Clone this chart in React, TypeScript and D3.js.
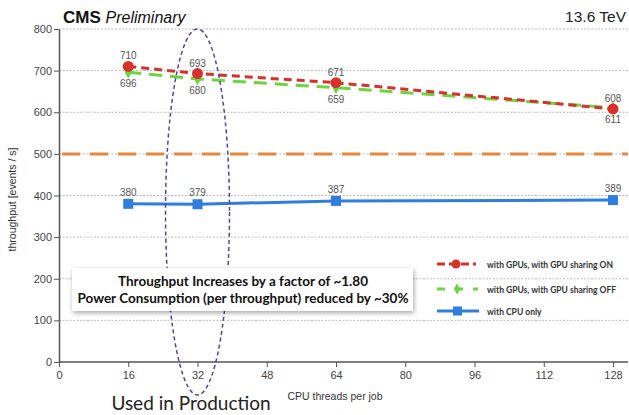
import React, { useEffect, useRef } from 'react'
import * as d3 from 'd3'

const threads = [16, 32, 64, 128]
const sharingOn = [710, 693, 671, 608]
const sharingOff = [696, 680, 659, 611]
const cpuOnly = [380, 379, 387, 389]
const xTicks = [0, 16, 32, 48, 64, 80, 96, 112, 128]
const yTicks = [0, 100, 200, 300, 400, 500, 600, 700, 800]
const productionLine = 500
const legendLabels = ['with GPUs, with GPU sharing ON', 'with GPUs, with GPU sharing OFF', 'with CPU only']
const boxLines = ['Throughput Increases by a factor of ~1.80', 'Power Consumption (per throughput) reduced by ~30%']

const W = 629
const H = 415
const margin = { top: 29, right: 16, bottom: 53, left: 59 }

const App = () => {
  const svgRef = useRef<SVGSVGElement>(null)

  useEffect(() => {
    if (!svgRef.current) return
    const svg = d3.select(svgRef.current)
    svg.selectAll('*').remove()

    const x = d3.scaleLinear().domain([0, 128]).range([margin.left, W - margin.right])
    const y = d3.scaleLinear().domain([0, 800]).range([H - margin.bottom, margin.top])
    const gridRight = 628
    const sans = 'Liberation Sans, Arial, sans-serif'

    // grid
    svg.append('g')
      .selectAll('line')
      .data(yTicks.filter(d => d > 0))
      .join('line')
      .attr('x1', margin.left).attr('x2', gridRight)
      .attr('y1', d => y(d)).attr('y2', d => y(d))
      .attr('stroke', '#bbb').attr('stroke-width', 1).attr('stroke-dasharray', '2,1.5')

    // axes
    const yAxis = svg.append('g')
      .attr('transform', `translate(${margin.left},0)`)
      .call(d3.axisLeft(y).tickValues(yTicks).tickSize(5).tickSizeOuter(0))
    const xAxis = svg.append('g')
      .attr('transform', `translate(0,${y(0)})`)
      .call(d3.axisBottom(x).tickValues(xTicks).tickSize(5).tickSizeOuter(0))
    xAxis.select('.domain').attr('d', `M${margin.left},0H${gridRight}`)
    for (const ax of [xAxis, yAxis]) {
      ax.select('.domain').attr('stroke', '#555').attr('stroke-width', 1.5)
      ax.selectAll('.tick line').attr('stroke', '#555')
      ax.selectAll('.tick text')
        .attr('fill', '#444').attr('font-size', 11)
        .attr('font-family', sans)
    }
    yAxis.selectAll('.tick text').attr('x', -7)
    xAxis.selectAll('.tick text').attr('y', 9)

    // production reference line
    svg.append('line')
      .attr('x1', margin.left + 3).attr('x2', gridRight)
      .attr('y1', y(productionLine)).attr('y2', y(productionLine))
      .attr('stroke', '#e4883a').attr('stroke-width', 3).attr('stroke-dasharray', '18,10')

    const pts = (vals: number[]) => vals.map((v, i) => [x(threads[i]), y(v)] as [number, number])
    const line = d3.line()

    // CPU only
    svg.append('path').attr('d', line(pts(cpuOnly)))
      .attr('fill', 'none').attr('stroke', '#2f7de1').attr('stroke-width', 3)
    svg.append('g').selectAll('rect').data(pts(cpuOnly)).join('rect')
      .attr('x', d => d[0] - 5).attr('y', d => d[1] - 5).attr('width', 10).attr('height', 10)
      .attr('fill', '#2f7de1')

    // sharing OFF
    svg.append('path').attr('d', line(pts(sharingOff)))
      .attr('fill', 'none').attr('stroke', '#6ad53f').attr('stroke-width', 3).attr('stroke-dasharray', '13,8')
    svg.append('g').selectAll('path').data(pts(sharingOff)).join('path')
      .attr('d', d3.symbol(d3.symbolDiamond, 45)())
      .attr('transform', d => `translate(${d[0]},${d[1]})`)
      .attr('fill', '#6ad53f')

    // sharing ON
    svg.append('path').attr('d', line(pts(sharingOn)))
      .attr('fill', 'none').attr('stroke', '#d8302a').attr('stroke-width', 3).attr('stroke-dasharray', '8,5')
    svg.append('g').selectAll('circle').data(pts(sharingOn)).join('circle')
      .attr('cx', d => d[0]).attr('cy', d => d[1]).attr('r', 5.5)
      .attr('fill', '#d8302a')

    // value labels
    const addLabels = (vals: number[], dy: number) => {
      svg.append('g').selectAll('text').data(vals).join('text')
        .attr('x', (d, i) => x(threads[i])).attr('y', d => y(d) + dy)
        .attr('text-anchor', 'middle').attr('font-size', 10).attr('fill', '#555')
        .attr('font-family', sans)
        .text(d => d)
    }
    addLabels(sharingOn, -7)
    addLabels(sharingOff, 15)
    addLabels(cpuOnly, -8)

    // legend
    const legendY = [264, 289, 311]
    const lg = svg.append('g').attr('font-family', 'Lato, Open Sans, sans-serif')
    lg.append('line').attr('x1', 437).attr('x2', 476).attr('y1', legendY[0]).attr('y2', legendY[0])
      .attr('stroke', '#d8302a').attr('stroke-width', 3).attr('stroke-dasharray', '8,4')
    lg.append('circle').attr('cx', 456).attr('cy', legendY[0]).attr('r', 4.5).attr('fill', '#d8302a')
    lg.append('line').attr('x1', 437).attr('x2', 478).attr('y1', legendY[1]).attr('y2', legendY[1])
      .attr('stroke', '#6ad53f').attr('stroke-width', 3).attr('stroke-dasharray', '8,10')
    lg.append('path').attr('d', d3.symbol(d3.symbolDiamond, 35)())
      .attr('transform', `translate(457,${legendY[1]})`).attr('fill', '#6ad53f')
    lg.append('line').attr('x1', 437).attr('x2', 479).attr('y1', legendY[2]).attr('y2', legendY[2])
      .attr('stroke', '#2f7de1').attr('stroke-width', 3)
    lg.append('rect').attr('x', 453).attr('y', legendY[2] - 4.5).attr('width', 9).attr('height', 9).attr('fill', '#2f7de1')
    lg.selectAll('text').data(legendLabels).join('text')
      .attr('x', 487).attr('y', (d, i) => legendY[i] + 3.5)
      .attr('font-size', 8.5).attr('font-weight', 'bold').attr('fill', '#333')
      .text(d => d)

    // production ellipse (drawn below the annotation box)
    svg.append('ellipse')
      .attr('cx', x(32)).attr('cy', 212).attr('rx', 32).attr('ry', 183)
      .attr('fill', 'none').attr('stroke', '#5a3fa6').attr('stroke-width', 1.5).attr('stroke-dasharray', '4,3')
    svg.append('text').attr('x', 191).attr('y', 410)
      .attr('text-anchor', 'middle').attr('font-size', 19)
      .attr('font-family', 'Lato, Open Sans, sans-serif').attr('fill', '#222')
      .text('Used in Production')

    // annotation box
    const defs = svg.append('defs')
    const f = defs.append('filter').attr('id', 'shadow').attr('x', '-10%').attr('y', '-30%').attr('width', '120%').attr('height', '170%')
    f.append('feDropShadow').attr('dx', 1).attr('dy', 2).attr('stdDeviation', 2.5).attr('flood-color', '#000').attr('flood-opacity', 0.35)
    svg.append('rect').attr('x', 72).attr('y', 268).attr('width', 341).attr('height', 43)
      .attr('fill', '#fff').attr('filter', 'url(#shadow)')
    svg.append('g').selectAll('text').data(boxLines).join('text')
      .attr('x', 243).attr('y', (d, i) => 286 + i * 17)
      .attr('text-anchor', 'middle').attr('font-size', 13.5).attr('font-weight', 'bold')
      .attr('font-family', 'Lato, Open Sans, sans-serif').attr('fill', '#111')
      .text(d => d)

    // titles
    const title = svg.append('text').attr('x', 63).attr('y', 23)
      .attr('font-family', sans).attr('font-size', 17).attr('fill', '#111')
    title.append('tspan').attr('font-weight', 'bold').text('CMS ')
    title.append('tspan').attr('font-style', 'italic').attr('font-size', 16).text('Preliminary')
    svg.append('text').attr('x', 626).attr('y', 22).attr('text-anchor', 'end')
      .attr('font-family', sans).attr('font-size', 15.5).attr('fill', '#222')
      .text('13.6 TeV')
    svg.append('text').attr('transform', `translate(16,${y(400) + 4}) rotate(-90)`)
      .attr('text-anchor', 'middle').attr('font-size', 10.5).attr('fill', '#333')
      .attr('font-family', sans)
      .text('throughput [events / s]')
    svg.append('text').attr('x', 335).attr('y', 400).attr('text-anchor', 'middle')
      .attr('font-size', 10.5).attr('fill', '#333')
      .attr('font-family', sans)
      .text('CPU threads per job')
  }, [])

  return (
    <svg ref={svgRef} width={W} height={H} style={{ position: 'absolute', left: 0, top: 0, background: '#fff' }} />
  )
}

export default App
